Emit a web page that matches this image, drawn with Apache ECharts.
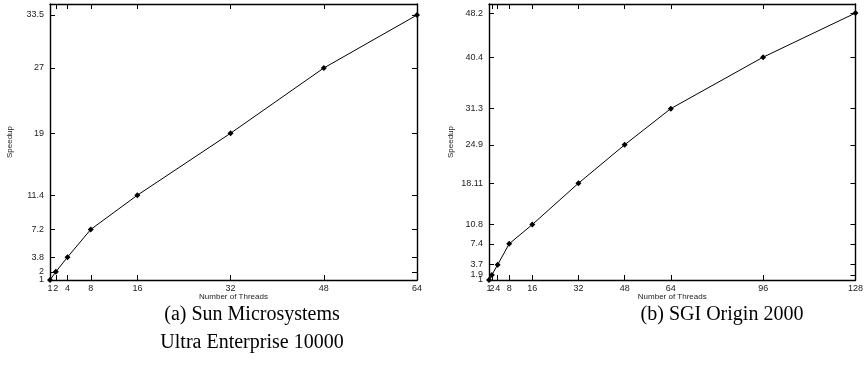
<!DOCTYPE html>
<html>
<head>
<meta charset="utf-8">
<script src="https://cdn.jsdelivr.net/npm/echarts@6/dist/echarts.min.js"></script>
<style>html,body{margin:0;padding:0;background:#fff}#c{width:866px;height:368px}</style>
</head>
<body>
<div id="c"></div>
<script>
const threadsA = [1, 2, 4, 8, 16, 32, 48, 64];
const speedupA = [1, 2, 3.8, 7.2, 11.4, 19, 27, 33.5];
const xTicksA = [1, 2, 4, 8, 16, 32, 48, 64];
const yTicksA = [1, 2, 3.8, 7.2, 11.4, 19, 27, 33.5];

const threadsB = [1, 2, 4, 8, 16, 32, 48, 64, 96, 128];
const speedupB = [1, 1.9, 3.7, 7.4, 10.8, 18.11, 24.9, 31.3, 40.4, 48.2];
const xTicksB = [1, 2, 4, 8, 16, 32, 48, 64, 96, 128];
const yTicksB = [1, 1.9, 3.7, 7.4, 10.8, 18.11, 24.9, 31.3, 40.4, 48.2];

const captionA = '(a) Sun Microsystems\nUltra Enterprise 10000';
const captionB = '(b) SGI Origin 2000';
const xName = 'Number of Threads';
const yName = 'Speedup';

const sans = 'Liberation Sans';
const lineStyle = {color: '#000', width: 1.4};

// crowded tick labels near the origin are split over two overlaid axes
const evenIdx = (arr) => arr.filter((_, i) => i !== 1);
const oddIdx = (arr) => arr.filter((_, i) => i === 1);

function xAx(grid, ticks, labels, max, top, overlay) {
  return {
    type: 'value', gridIndex: grid, min: 1, max: max, position: top ? 'top' : 'bottom',
    name: (top || overlay) ? '' : xName, nameLocation: 'middle', nameGap: 13, nameMoveOverlap: false,
    nameTextStyle: {fontFamily: sans, fontSize: 8, color: '#222'},
    axisLine: {show: !overlay, onZero: false, lineStyle: lineStyle},
    axisTick: {show: !overlay, inside: true, length: 5, customValues: ticks, lineStyle: {color: '#000', width: 1}},
    axisLabel: {show: !top, customValues: labels, margin: 4, fontFamily: sans, fontSize: 9, color: '#222',
                hideOverlap: false, showMinLabel: true, showMaxLabel: true},
    splitLine: {show: false}
  };
}
function yAx(grid, ticks, labels, max, right, gap, overlay) {
  return {
    type: 'value', gridIndex: grid, min: 1, max: max, position: right ? 'right' : 'left',
    name: (right || overlay) ? '' : yName, nameLocation: 'middle', nameGap: gap, nameMoveOverlap: false,
    nameTextStyle: {fontFamily: sans, fontSize: 8, color: '#222'},
    axisLine: {show: !overlay, onZero: false, lineStyle: lineStyle},
    axisTick: {show: !overlay, inside: true, length: 5, customValues: ticks, lineStyle: {color: '#000', width: 1}},
    axisLabel: {show: !right, customValues: labels, margin: 6, fontFamily: sans, fontSize: 9, color: '#222',
                hideOverlap: false, showMinLabel: true, showMaxLabel: true},
    splitLine: {show: false}
  };
}

const gA = {left: 50, top: 4, width: 367, height: 276};
const gB = {left: 489, top: 4, width: 368, height: 276};
const maxXA = 64, maxYA = 34.85, maxXB = 128, maxYB = 49.8;

const chart = echarts.init(document.getElementById('c'), null, {renderer: 'canvas'});
chart.setOption({
  animation: false,
  backgroundColor: '#fff',
  title: [
    {text: captionA, left: 247, top: 296, textAlign: 'center',
     textStyle: {fontFamily: 'Liberation Serif', fontSize: 20, fontWeight: 'normal', color: '#000', lineHeight: 28}},
    {text: captionB, left: 717, top: 296, textAlign: 'center',
     textStyle: {fontFamily: 'Liberation Serif', fontSize: 20, fontWeight: 'normal', color: '#000', lineHeight: 28}}
  ],
  grid: [gA, gB, Object.assign({}, gA), Object.assign({}, gB)],
  xAxis: [
    xAx(0, xTicksA, evenIdx(xTicksA), maxXA, false, false), xAx(0, xTicksA, [], maxXA, true, false),
    xAx(1, xTicksB, evenIdx(xTicksB), maxXB, false, false), xAx(1, xTicksB, [], maxXB, true, false),
    xAx(2, [], oddIdx(xTicksA), maxXA, false, true),
    xAx(3, [], oddIdx(xTicksB), maxXB, false, true)
  ],
  yAxis: [
    yAx(0, yTicksA, evenIdx(yTicksA), maxYA, false, 36, false), yAx(0, yTicksA, [], maxYA, true, 0, false),
    yAx(1, yTicksB, evenIdx(yTicksB), maxYB, false, 34, false), yAx(1, yTicksB, [], maxYB, true, 0, false),
    yAx(2, [], oddIdx(yTicksA), maxYA, false, 0, true),
    yAx(3, [], oddIdx(yTicksB), maxYB, false, 0, true)
  ],
  series: [
    {type: 'line', xAxisIndex: 0, yAxisIndex: 0,
     data: threadsA.map((t, i) => [t, speedupA[i]]),
     symbol: 'diamond', symbolSize: 6, lineStyle: {color: '#000', width: 1},
     itemStyle: {color: '#000'}},
    {type: 'line', xAxisIndex: 2, yAxisIndex: 2,
     data: threadsB.map((t, i) => [t, speedupB[i]]),
     symbol: 'diamond', symbolSize: 6, lineStyle: {color: '#000', width: 1},
     itemStyle: {color: '#000'}}
  ]
});
</script>
</body>
</html>
